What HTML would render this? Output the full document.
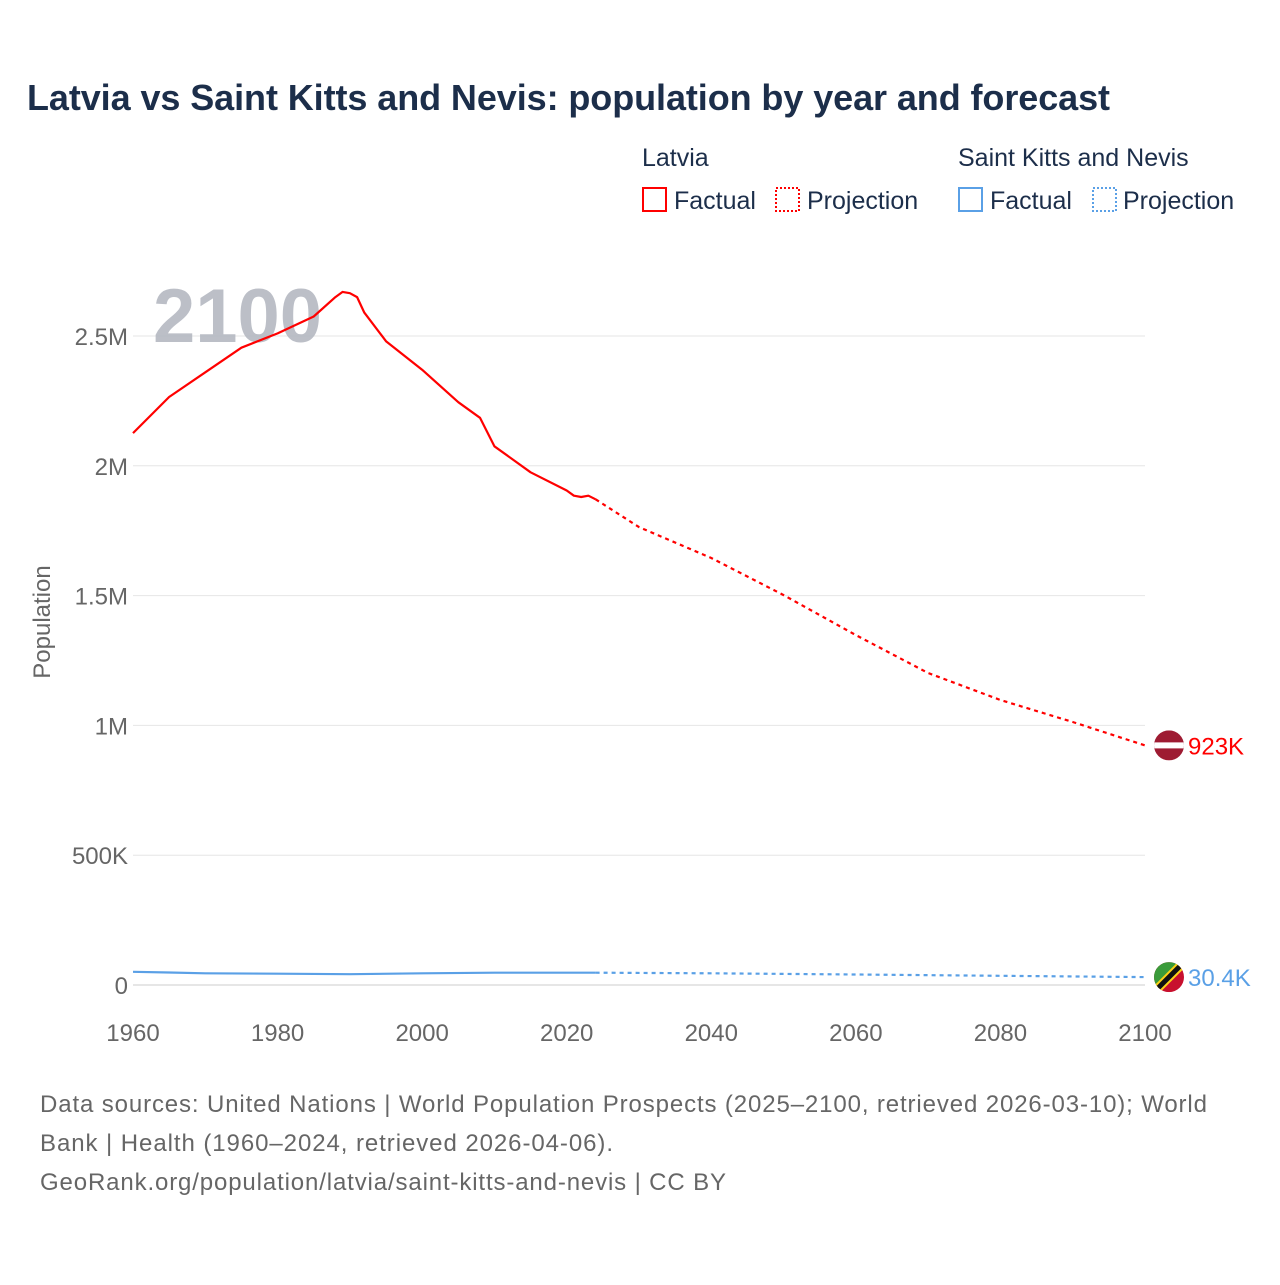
<!DOCTYPE html>
<html><head><meta charset="utf-8"><style>
body{margin:0;background:#fff;}
svg text{font-family:"Liberation Sans",sans-serif;}
</style></head><body>
<svg width="1280" height="1280" viewBox="0 0 1280 1280">
<rect width="1280" height="1280" fill="#fff"/>
<text x="27" y="110" font-size="36" font-weight="bold" fill="#1c2e4a" textLength="1083">Latvia vs Saint Kitts and Nevis: population by year and forecast</text>
<g id="legend" font-size="25" fill="#1c2e4a">
<text x="642" y="166">Latvia</text>
<rect x="643" y="188" width="23" height="23" fill="none" stroke="#ff0000" stroke-width="2"/>
<text x="674" y="209">Factual</text>
<rect x="776" y="188" width="23" height="23" fill="none" stroke="#ff0000" stroke-width="2" stroke-dasharray="2,2"/>
<text x="807" y="209">Projection</text>
<text x="958" y="166">Saint Kitts and Nevis</text>
<rect x="959" y="188" width="23" height="23" fill="none" stroke="#5aa0e6" stroke-width="2"/>
<text x="990" y="209">Factual</text>
<rect x="1093" y="188" width="23" height="23" fill="none" stroke="#5aa0e6" stroke-width="2" stroke-dasharray="2,2"/>
<text x="1123" y="209">Projection</text>
</g>
<g id="grid"></g>
<text x="153" y="342" font-size="76" font-weight="bold" fill="#b5b9c2" opacity="0.9">2100</text>
<text transform="translate(50,622) rotate(-90)" text-anchor="middle" font-size="24" fill="#666">Population</text>
<g id="series"></g>
<g id="flags"></g>
<g font-size="24" fill="#666">
<text x="40" y="1112" textLength="1167">Data sources: United Nations | World Population Prospects (2025–2100, retrieved 2026-03-10); World</text>
<text x="40" y="1151" textLength="573">Bank | Health (1960–2024, retrieved 2026-04-06).</text>
<text x="40" y="1190" textLength="686">GeoRank.org/population/latvia/saint-kitts-and-nevis | CC BY</text>
</g>
</svg>
<script>
const yTicks=[0,500000,1000000,1500000,2000000,2500000];
const yTickLabels=["0","500K","1M","1.5M","2M","2.5M"];
const xTicks=[1960,1980,2000,2020,2040,2060,2080,2100];
const latviaYears=[1960,1965,1970,1975,1980,1985,1988,1989,1990,1991,1992,1995,2000,2005,2008,2010,2015,2020,2021,2022,2023,2024];
const latviaVals=[2126000,2265000,2360000,2455000,2510000,2575000,2650000,2670000,2665000,2650000,2590000,2480000,2370000,2245000,2185000,2075000,1975000,1905000,1885000,1880000,1885000,1871000];
const latviaProjYears=[2024,2030,2040,2050,2060,2070,2080,2090,2100];
const latviaProjVals=[1871000,1764000,1645000,1502000,1348000,1202000,1098000,1013000,923000];
const sknYears=[1960,1965,1970,1980,1990,2000,2010,2024];
const sknVals=[51000,48000,45000,43500,41500,45000,47500,47500];
const sknProjYears=[2024,2040,2060,2080,2100];
const sknProjVals=[47500,45000,40500,35500,30400];
const endLabels=["923K","30.4K"];

const NS="http://www.w3.org/2000/svg";
const x=y=>133+(y-1960)*(1012/140);
const yv=v=>985-v*(649/2500000);
function el(t,a,p){const e=document.createElementNS(NS,t);for(const k in a)e.setAttribute(k,a[k]);p.appendChild(e);return e;}
const grid=document.getElementById('grid');
yTicks.forEach((t,i)=>{
 const l=el('line',{x1:133,x2:1145,y1:yv(t),y2:yv(t),stroke:t===0?'#ccc':'#e6e6e6','stroke-width':1},grid);
 
 
 const tx=el('text',{x:128,y:yv(t)+9,'text-anchor':'end','font-size':24,fill:'#666'},grid);
 tx.textContent=yTickLabels[i];
 
 
});
xTicks.forEach(t=>{
 const tx=el('text',{x:x(t),y:1041,'text-anchor':'middle','font-size':24,fill:'#666'},grid);
 tx.textContent=t;
 
 
});
const s=document.getElementById('series');
function line(ys,vs,color,dash,name){
 const d=ys.map((yy,i)=>(i?'L':'M')+x(yy).toFixed(1)+','+yv(vs[i]).toFixed(1)).join(' ');
 const p=el('path',{d:d,fill:'none',stroke:color,'stroke-width':2.2,'stroke-linejoin':'round'},s);
 if(dash)p.setAttribute('stroke-dasharray','4,4');
 
 
}
line(latviaYears,latviaVals,'#ff0000',false,'latvia-factual-line');
line(latviaProjYears,latviaProjVals,'#ff0000',true,'latvia-projection-line');
line(sknYears,sknVals,'#5aa0e6',false,'skn-factual-line');
line(sknProjYears,sknProjVals,'#5aa0e6',true,'skn-projection-line');
const f=document.getElementById('flags');
const lx=1169, ly=yv(latviaProjVals[latviaProjVals.length-1]);
const g1=el('g',{},f);


const cp1=el('clipPath',{id:'c1'},g1);el('circle',{cx:lx,cy:ly,r:15},cp1);
el('rect',{x:lx-15,y:ly-15,width:30,height:30,fill:'#9e1b32','clip-path':'url(#c1)'},g1);
el('rect',{x:lx-15,y:ly-3,width:30,height:6,fill:'#fff','clip-path':'url(#c1)'},g1);
const t1=el('text',{x:1188,y:ly+9,'font-size':24,fill:'#ff0000'},f);t1.textContent=endLabels[0];


const sx=1169, sy=yv(sknProjVals[sknProjVals.length-1]);
const g2=el('g',{},f);


const cp=el('clipPath',{id:'c2'},g2);el('circle',{cx:sx,cy:sy,r:15},cp);
el('rect',{x:sx-15,y:sy-15,width:30,height:30,fill:'#c8102e','clip-path':'url(#c2)'},g2);
el('polygon',{points:`${sx-15},${sy-15} ${sx+15},${sy-15} ${sx-15},${sy+15}`,fill:'#3a9b3a','clip-path':'url(#c2)'},g2);
el('line',{x1:sx-15,y1:sy+15,x2:sx+15,y2:sy-15,stroke:'#fcd116','stroke-width':9,'clip-path':'url(#c2)'},g2);
el('line',{x1:sx-15,y1:sy+15,x2:sx+15,y2:sy-15,stroke:'#111','stroke-width':5,'clip-path':'url(#c2)'},g2);
const t2=el('text',{x:1188,y:sy+9,'font-size':24,fill:'#5aa0e6'},f);t2.textContent=endLabels[1];


</script>
</body></html>
